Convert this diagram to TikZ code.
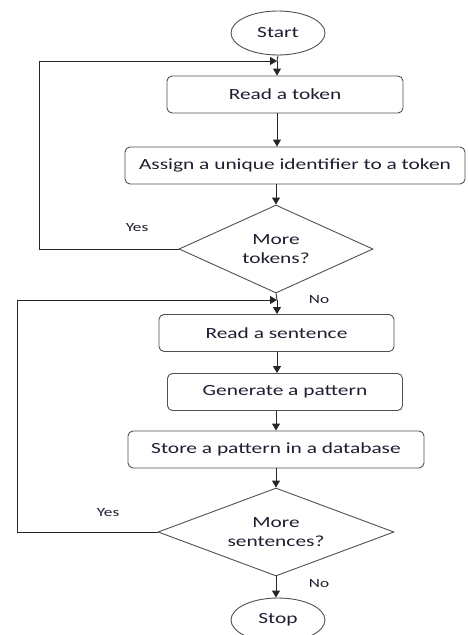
\documentclass[tikz,border=0pt]{standalone}
\usepackage{fontspec}
\setmainfont[FakeStretch=1.38]{Carlito}
\usetikzlibrary{shapes.geometric,arrows.meta}
\definecolor{ink}{HTML}{1E1E30}
\definecolor{edge}{HTML}{505050}
\tikzset{
  every node/.style={font=\fontsize{15.5}{19}\selectfont, text=ink},
  terminal/.style={ellipse, draw=edge, line width=0.9pt, minimum width=94pt, minimum height=44pt, inner sep=0pt},
  process/.style={rectangle, rounded corners=5pt, draw=edge, line width=0.9pt, minimum height=37pt, inner sep=0pt},
  decision/.style={diamond, draw=edge, line width=0.9pt, inner sep=0pt},
  question/.style={align=center, inner sep=0pt},
  flow/.style={draw=black!85, line width=0.9pt, -{Triangle[length=7pt,width=8pt]}},
  wire/.style={draw=black!80, line width=0.9pt},
  lbl/.style={font=\fontsize{12.5}{14}\selectfont}
}
\begin{document}
\begin{tikzpicture}[x=1pt,y=-1pt]
\useasboundingbox (0,0) rectangle (468,635);
\clip (0,0) rectangle (468,635);
% terminals
\node[terminal] (start) at (278,33) {Start};
\node[terminal] (stop) at (278,620) {Stop};
% token loop
\node[process, minimum width=236pt] (readtok) at (285,94.5) {Read a token};
\node[process, minimum width=340pt] (assign) at (295,165.5) {Assign a unique identifier to a token};
\node[decision, minimum width=194pt, minimum height=88pt] (moretok) at (276,249) {};
\node[question] (moretoktxt) at (moretok.center) {More\\tokens?};
% sentence loop
\node[process, minimum width=235pt] (readsen) at (276.5,333) {Read a sentence};
\node[process, minimum width=235pt] (genpat) at (285,392) {Generate a pattern};
\node[process, minimum width=296pt] (store) at (276,449.5) {Store a pattern in a database};
\node[decision, minimum width=236pt, minimum height=88pt] (moresen) at (276,532) {};
\node[question] (moresentxt) at (moresen.center) {More\\sentences?};
% junctions above the loop entries
\coordinate (j1) at (277,61);
\coordinate (j2) at (277,300);
\coordinate (c1) at (39,249);
\coordinate (c1t) at (39,61);
\coordinate (c2) at (17,532);
\coordinate (c2t) at (17,300);
% main flow
\draw[wire] (start.south) -- (j1);
\draw[flow] (j1) -- (j1 |- readtok.north);
\draw[flow] (readtok.south -| j1) -- (j1 |- assign.north);
\draw[flow] (assign.south -| moretok) -- (moretok.north);
\draw[wire] (moretok.south) -- (j2);
\draw[flow] (j2) -- (j2 |- readsen.north);
\draw[flow] (readsen.south -| j2) -- (j2 |- genpat.north);
\draw[flow] (genpat.south -| store) -- (store.north);
\draw[flow] (store.south) -- (moresen.north);
\draw[flow] (moresen.south) -- (moresen.south |- stop.north);
% loop backs
\draw[flow] (moretok.west) -- (c1) -- (c1t) -- (j1);
\draw[flow] (moresen.west) -- (c2) -- (c2t) -- (j2);
% branch labels
\node[lbl] (yes1) at (137,228) {Yes};
\node[lbl] (no1) at (319,300) {No};
\node[lbl] (yes2) at (108,513) {Yes};
\node[lbl] (no2) at (319,584) {No};
\end{tikzpicture}
\end{document}
